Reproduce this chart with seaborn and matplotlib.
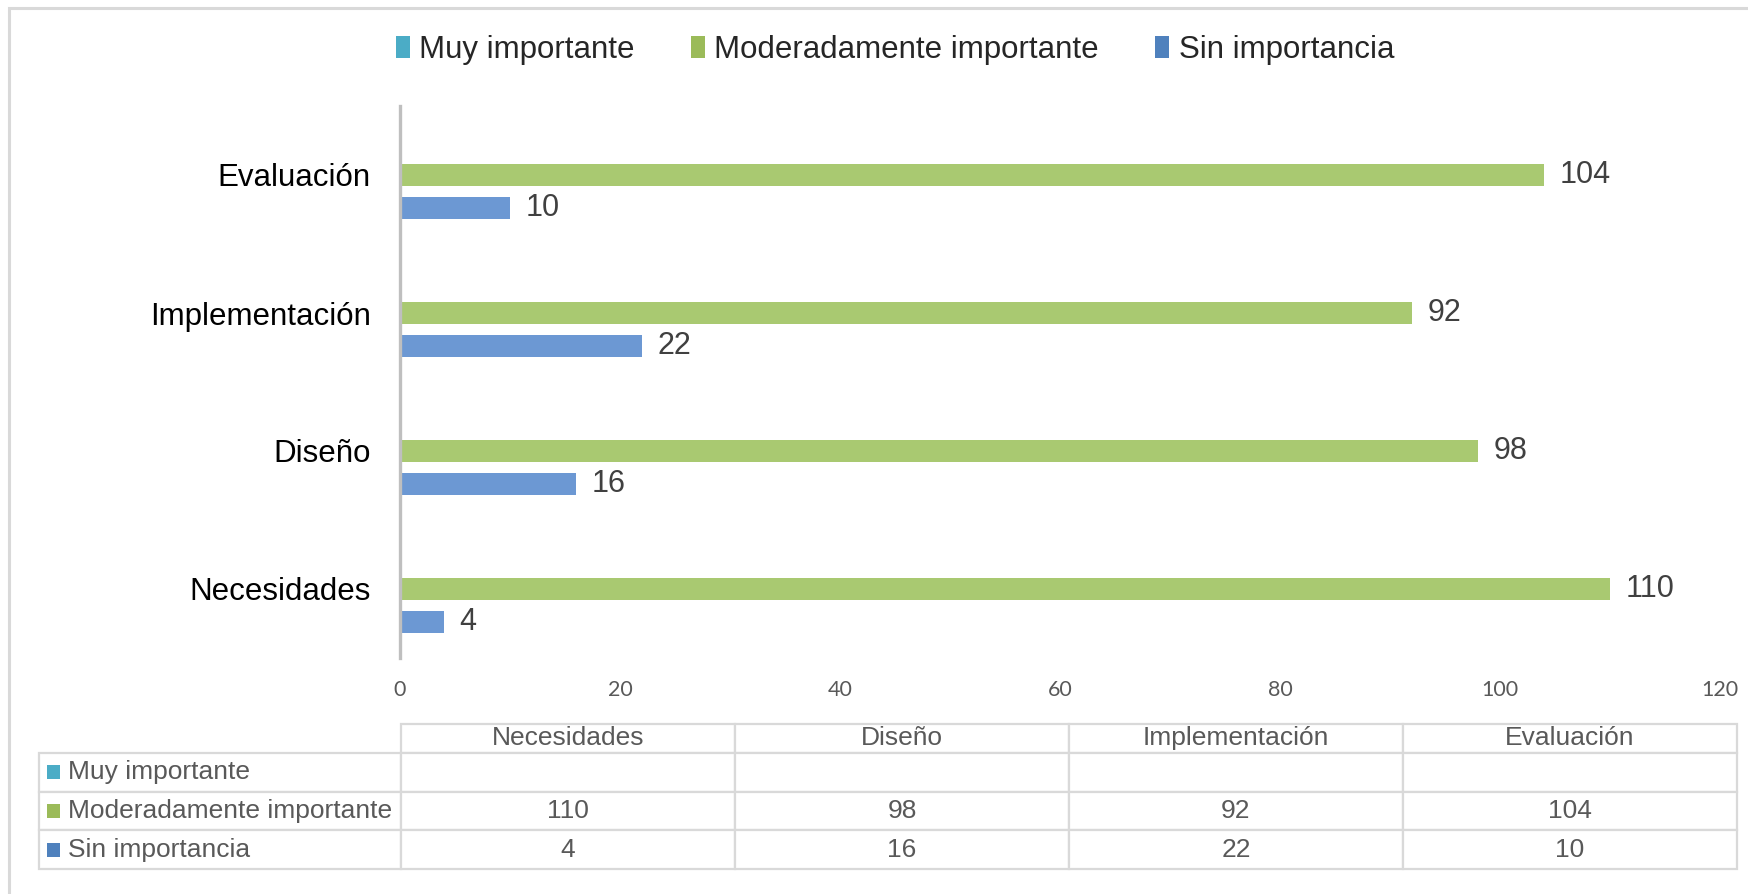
import numpy as np
import pandas as pd
import matplotlib
matplotlib.use("Agg")
import matplotlib.pyplot as plt
from matplotlib.patches import Patch, Rectangle
import seaborn as sns

# ---- data ----
categories = ["Necesidades", "Diseño", "Implementación", "Evaluación"]
series = ["Muy importante", "Moderadamente importante", "Sin importancia"]
muy_importante = [np.nan, np.nan, np.nan, np.nan]
moderadamente = [110, 98, 92, 104]
sin_importancia = [4, 16, 22, 10]
x_ticks = [0, 20, 40, 60, 80, 100, 120]

legend_colors = ["#4BACC6", "#9BBB59", "#4F81BD"]
bar_colors = ["#4BACC6", "#A9C971", "#6C98D3"]

values = {s: v for s, v in zip(series, [muy_importante, moderadamente, sin_importancia])}
rows = []
for s in series:
    for c, v in zip(categories, values[s]):
        rows.append({"Etapa": c, "Serie": s, "Valor": 0 if pd.isna(v) else v})
df = pd.DataFrame(rows)

sns.set_theme(style="white")
plt.rcParams["font.family"] = ["Liberation Sans", "DejaVu Sans"]

W, H = 1749, 894
fig = plt.figure(figsize=(W / 100, H / 100), dpi=100)

# outer frame (left & top visible)
fig.patches.append(Rectangle((9 / W, -0.1), 1.2, 1.1 - 8 / H, transform=fig.transFigure,
                             fill=False, edgecolor="#D9D9D9", linewidth=2.2, zorder=0))

ax = fig.add_axes([400 / W, 1 - 658 / H, 1320 / W, 552 / H])
plot_order = categories[::-1]
sns.barplot(data=df, y="Etapa", x="Valor", hue="Serie", hue_order=series,
            order=plot_order, orient="h", palette=bar_colors, saturation=1,
            width=0.72, gap=1 / 3, legend=False, errorbar=None, ax=ax,
            linewidth=0)

ax.set_xlim(0, 120)
ax.set_xticks(x_ticks)
ax.set_xticklabels([str(t) for t in x_ticks], fontfamily="Lato", fontsize=15.5, color="#595959")
ax.tick_params(axis="x", length=0, pad=16)
ax.tick_params(axis="y", length=0, pad=21, labelsize=22.5, labelcolor="black")
ax.set_xlabel("")
ax.set_ylabel("")
for sp in ["top", "right", "bottom"]:
    ax.spines[sp].set_visible(False)
ax.spines["left"].set_color("#BFBFBF")
ax.spines["left"].set_linewidth(2.4)
ax.grid(False)

for s, cont in zip(series, ax.containers):
    labels = ["" if pd.isna(v) else f"{v:g}" for v in [values[s][categories.index(c)] for c in plot_order]]
    ax.bar_label(cont, labels=labels, padding=11, fontsize=22, color="#404040")

# legend
handles = [Patch(facecolor=c, edgecolor="none") for c in legend_colors]
fig.legend(handles, series, loc="center", bbox_to_anchor=(895 / W, 1 - 50 / H), ncol=3,
           frameon=False, fontsize=22.5, handlelength=0.45, handleheight=0.7,
           handletextpad=0.3, columnspacing=1.8)

# data table
t_left, t_right, t_top, t_bottom = 39, 1737, 724, 869
ax_t = fig.add_axes([t_left / W, 1 - t_bottom / H, (t_right - t_left) / W, (t_bottom - t_top) / H])
ax_t.axis("off")

def fmt(v):
    return "" if pd.isna(v) else f"{v:g}"

cell_text = [[s] + [fmt(v) for v in values[s]] for s in series]
col_labels = [""] + categories
label_w, col_w = 362, 334
tot_w = label_w + col_w * len(categories)
col_widths = [label_w / tot_w] + [col_w / tot_w] * len(categories)
tbl = ax_t.table(cellText=cell_text, colLabels=col_labels, colWidths=col_widths,
                 cellLoc="center", bbox=[0, 0, 1, 1])
tbl.auto_set_font_size(False)
header_h, row_h = 29, 39
for (r, c), cell in tbl.get_celld().items():
    cell.set_edgecolor("#D9D9D9")
    cell.set_linewidth(1.6)
    cell.set_height(header_h if r == 0 else row_h)
    cell.get_text().set_fontsize(19)
    cell.get_text().set_color("#595959")
    if c == 0:
        cell.PAD = 0.08
        cell.get_text().set_ha("left")
        cell._loc = "left"
    if r == 0 and c == 0:
        cell.visible_edges = ""

# legend keys inside the table's row-label column
tot_h = header_h + row_h * len(series)
for i, col in enumerate(legend_colors):
    yc = 1 - (header_h + row_h * (i + 0.5)) / tot_h
    kh = 14 / (t_bottom - t_top)
    kw = 13 / (t_right - t_left)
    ax_t.add_patch(Rectangle((8 / (t_right - t_left), yc - kh / 2), kw, kh,
                             transform=ax_t.transAxes, facecolor=col, edgecolor="none"))

fig.savefig("out.png", dpi=100)
